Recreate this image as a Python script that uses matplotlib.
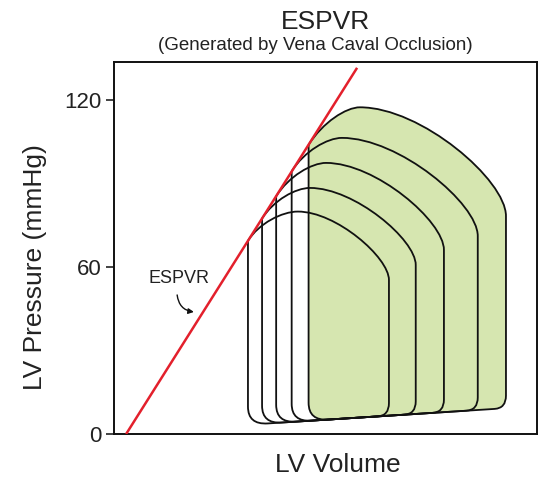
import matplotlib
matplotlib.use('Agg')
from matplotlib import pyplot as plt
from matplotlib.path import Path
from matplotlib.patches import PathPatch, FancyArrowPatch

plt.rcParams['font.family'] = ['Liberation Sans', 'DejaVu Sans']

# ESPVR line (volume in mL, pressure in mmHg)
espvr_v = [4.3, 86.2]
espvr_p = [0.0, 131.7]

# five pressure-volume loops, smallest to largest
esv = [47.5, 52.5, 57.5, 63.0, 69.0]        # end-systolic volume (left edge)
edv = [97.5, 107.0, 117.0, 129.0, 139.0]    # end-diastolic volume (right edge)
p_es = [69.5, 77.5, 85.5, 94.5, 104.0]      # end-systolic pressure (on ESPVR)
v_peak = [65.2, 69.5, 75.2, 80.8, 87.2]     # volume at peak pressure
p_peak = [80.0, 88.5, 97.5, 106.5, 117.5]   # peak pressure
p_open = [55.4, 60.8, 66.2, 71.2, 78.4]     # pressure where aortic valve opens
fill_start = 3.5                            # diastolic filling pressure at 50 mL
fill_slope = 0.065

slope = (espvr_p[1] - espvr_p[0]) / (espvr_v[1] - espvr_v[0])


def p_fill(v):
    return fill_start + fill_slope * (v - 50)


def loop_path(i):
    a, b = esv[i], edv[i]
    vl_line = espvr_v[0] + p_peak[i] / slope
    k1 = 0.6 * (p_peak[i] - p_es[i]) / slope
    k2 = 0.5 * (v_peak[i] - vl_line)
    dx = b - v_peak[i]
    dy = p_peak[i] - p_open[i]
    rxl, ryl = 7.0, 6.5
    rxr, ryr = 4.0, 4.5
    verts = [
        (a, p_es[i]),
        (a + k1, p_es[i] + k1 * slope), (v_peak[i] - k2, p_peak[i]), (v_peak[i], p_peak[i]),
        (v_peak[i] + 0.42 * dx, p_peak[i]), (b, p_open[i] + 0.33 * dy), (b, p_open[i]),
        (b, p_fill(b) + ryr),
        (b, p_fill(b)), (b - rxr, p_fill(b - rxr)),
        (a + rxl, p_fill(a + rxl)),
        (a, p_fill(a)), (a, p_fill(a) + ryl),
        (a, p_es[i]),
    ]
    codes = [Path.MOVETO,
             Path.CURVE4, Path.CURVE4, Path.CURVE4,
             Path.CURVE4, Path.CURVE4, Path.CURVE4,
             Path.LINETO,
             Path.CURVE3, Path.CURVE3,
             Path.LINETO,
             Path.CURVE3, Path.CURVE3,
             Path.LINETO]
    return Path(verts, codes)


fig = plt.figure(figsize=(5.44, 4.82), dpi=100)
ax = fig.add_axes([0.2096, 0.0996, 0.7775, 0.7718])

# largest loop filled green
ax.add_patch(PathPatch(loop_path(4), facecolor='#d6e6b0', edgecolor='none', zorder=1))
for i in range(len(esv)):
    ax.add_patch(PathPatch(loop_path(i), facecolor='none', edgecolor='#111111',
                           lw=1.3, zorder=2))

ax.plot(espvr_v, espvr_p, color='#e3202c', lw=1.8, zorder=3, solid_capstyle='butt')

ax.text(23.0, 55.8, 'ESPVR', fontsize=13, ha='center', va='center', color='#222222')
arr = FancyArrowPatch((22.3, 51.0), (29.3, 43.8), connectionstyle='arc3,rad=0.45',
                      arrowstyle='-|>', mutation_scale=8, color='#111111', lw=1.0)
ax.add_patch(arr)

ax.set_xlim(0, 150)
ax.set_ylim(0, 133.8)
ax.set_xticks([])
ax.set_yticks([0, 60, 120])
ax.tick_params(axis='y', labelsize=16, length=6, width=1.2, pad=3, colors='#222222')
for s in ax.spines.values():
    s.set_linewidth(1.4)
    s.set_color('#111111')

ax.set_xlabel('LV Volume', fontsize=19, color='#222222')
ax.xaxis.set_label_coords(0.53, -0.05)
ax.set_ylabel('LV Pressure (mmHg)', fontsize=19, color='#222222')
ax.yaxis.set_label_coords(-0.158, 0.45)

fig.text(0.598, 0.940, 'ESPVR', fontsize=19, ha='center', va='baseline', color='#222222')
fig.text(0.58, 0.896, '(Generated by Vena Caval Occlusion)', fontsize=13.5,
         ha='center', va='baseline', color='#222222')

fig.savefig('out.png', dpi=100)
